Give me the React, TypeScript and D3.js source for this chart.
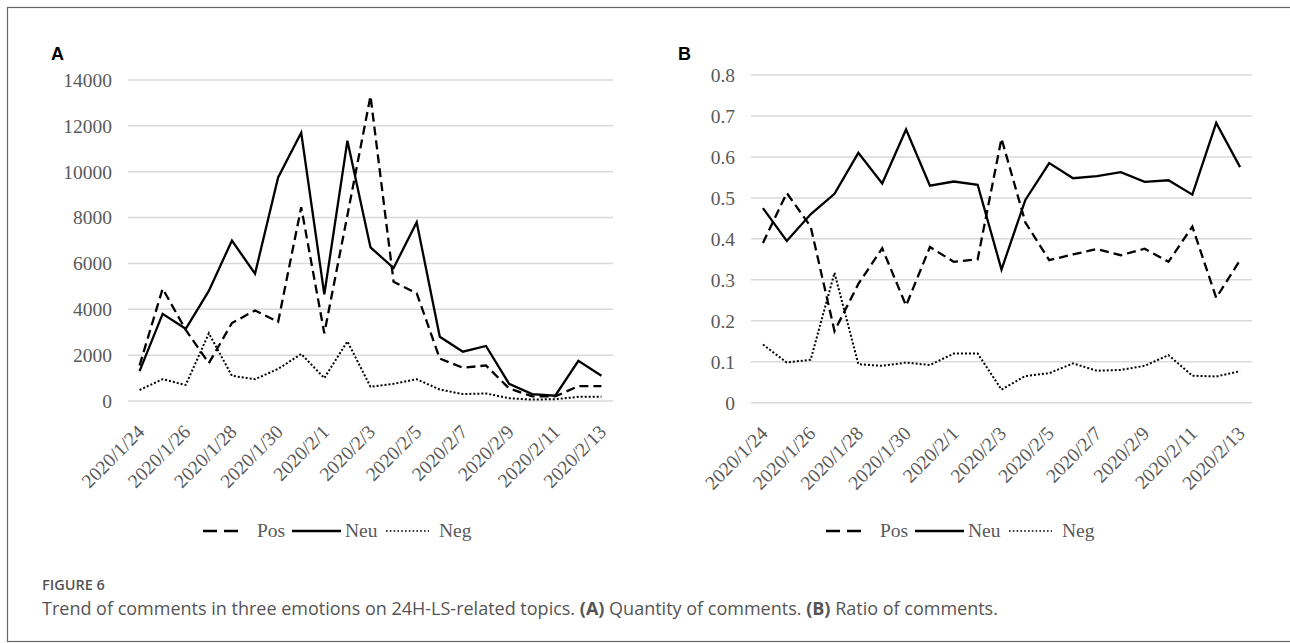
import React from 'react';
import * as d3 from 'd3';

// Trend of comments in three emotions (24H-LS topics), 2020/1/24 - 2020/2/13

const dates = [
  '2020/1/24', '2020/1/25', '2020/1/26', '2020/1/27', '2020/1/28', '2020/1/29', '2020/1/30',
  '2020/1/31', '2020/2/1', '2020/2/2', '2020/2/3', '2020/2/4', '2020/2/5', '2020/2/6',
  '2020/2/7', '2020/2/8', '2020/2/9', '2020/2/10', '2020/2/11', '2020/2/12', '2020/2/13',
];

// Panel A: quantity of comments
const posCount = [1550, 4900, 3100, 1650, 3400, 3950, 3450, 8450, 2950, 8100, 13300, 5200, 4700, 1850, 1450, 1550, 550, 200, 200, 650, 650];
const neuCount = [1300, 3800, 3150, 4800, 7000, 5550, 9750, 11700, 4650, 11350, 6700, 5800, 7800, 2800, 2150, 2400, 750, 300, 230, 1750, 1100];
const negCount = [480, 950, 700, 2950, 1100, 950, 1400, 2050, 1000, 2600, 620, 750, 950, 500, 300, 330, 120, 60, 80, 180, 180];

// Panel B: ratio of comments
const posRatio = [0.39, 0.512, 0.43, 0.175, 0.29, 0.377, 0.237, 0.38, 0.344, 0.35, 0.645, 0.44, 0.348, 0.362, 0.375, 0.36, 0.376, 0.344, 0.43, 0.256, 0.348];
const neuRatio = [0.475, 0.395, 0.46, 0.51, 0.61, 0.535, 0.667, 0.53, 0.54, 0.532, 0.325, 0.495, 0.585, 0.548, 0.553, 0.563, 0.539, 0.543, 0.508, 0.683, 0.575];
const negRatio = [0.142, 0.098, 0.105, 0.317, 0.094, 0.09, 0.098, 0.092, 0.12, 0.12, 0.032, 0.065, 0.072, 0.096, 0.078, 0.08, 0.09, 0.116, 0.066, 0.064, 0.077];

const countTicks = [0, 2000, 4000, 6000, 8000, 10000, 12000, 14000];
const ratioTicks = [0, 0.1, 0.2, 0.3, 0.4, 0.5, 0.6, 0.7, 0.8];

const seriesNames = ['Pos', 'Neu', 'Neg'];
const dashes = ['9,5', 'none', '2,2'];
const widths = [2.3, 2.3, 2];

const SERIF = '"Liberation Serif", "Times New Roman", serif';
const AXIS_GRAY = '#595959';

interface PanelProps {
  letter: string;
  series: number[][];
  ticks: number[];
  max: number;
  left: number;
  right: number;
  top: number;
  bottom: number;
  letterX: number;
  legendX: number;
  fmt: (v: number) => string;
}

function Panel({ letter, series, ticks, max, left, right, top, bottom, letterX, legendX, fmt }: PanelProps) {
  const x = d3.scalePoint<string>().domain(dates).range([left, right]).padding(0.5);
  const y = d3.scaleLinear().domain([0, max]).range([bottom, top]);
  const line = d3.line<number>()
    .x((_, i) => x(dates[i]) as number)
    .y(d => y(d));

  // legend layout offsets (sample, label) relative to legend start
  const sampleStart = [0, 89, 183];
  const sampleLen = [42, 49, 43];
  const labelStart = [54, 142, 236];
  const legendY = 537;

  return (
    <g>
      <text x={letterX} y={60} fontFamily='"Liberation Sans", Arial, sans-serif' fontWeight="bold" fontSize={18} fill="#000">
        {letter}
      </text>
      {ticks.map(t => (
        <g key={t}>
          <line x1={left} x2={right} y1={y(t)} y2={y(t)} stroke="#d9d9d9" strokeWidth={1.5} />
          <text x={left - 16} y={y(t)} dy="0.35em" textAnchor="end" fontFamily={SERIF} fontSize={19.5} fill={AXIS_GRAY}>
            {fmt(t)}
          </text>
        </g>
      ))}
      {dates.map((d, i) => i % 2 === 0 && (
        <text
          key={d}
          transform={`translate(${(x(d) as number) + 6},${bottom + 32}) rotate(-45)`}
          textAnchor="end"
          fontFamily={SERIF}
          fontSize={19.5}
          fill={AXIS_GRAY}
        >
          {d}
        </text>
      ))}
      {series.map((s, k) => (
        <path
          key={seriesNames[k]}
          d={line(s) || ''}
          fill="none"
          stroke="#000"
          strokeWidth={widths[k]}
          strokeDasharray={dashes[k]}
          strokeLinejoin="miter"
        />
      ))}
      {seriesNames.map((n, k) => (
        <g key={n}>
          <line
            x1={legendX + sampleStart[k]}
            x2={legendX + sampleStart[k] + sampleLen[k]}
            y1={legendY - 6}
            y2={legendY - 6}
            stroke="#000"
            strokeWidth={k === 2 ? 1.6 : 2.6}
            strokeDasharray={k === 0 ? '14,7' : k === 2 ? '1.6,2.2' : 'none'}
          />
          <text x={legendX + labelStart[k]} y={legendY} fontFamily={SERIF} fontSize={19.5} fill={AXIS_GRAY}>
            {n}
          </text>
        </g>
      ))}
    </g>
  );
}

export default function App() {
  return (
    <svg
      width={1290}
      height={643}
      viewBox="0 0 1290 643"
      style={{ position: 'absolute', left: 0, top: 0, background: '#fff', display: 'block' }}
    >
      <rect x={0} y={0} width={1290} height={643} fill="#fff" />
      <rect x={7.5} y={7.5} width={1300} height={634} fill="none" stroke="#666" strokeWidth={1.2} />
      <Panel
        letter="A"
        series={[posCount, neuCount, negCount]}
        ticks={countTicks}
        max={14000}
        left={128}
        right={613}
        top={80}
        bottom={401}
        letterX={51}
        legendX={203}
        fmt={v => String(v)}
      />
      <Panel
        letter="B"
        series={[posRatio, neuRatio, negRatio]}
        ticks={ratioTicks}
        max={0.8}
        left={751}
        right={1252}
        top={75}
        bottom={402.7}
        letterX={678}
        legendX={826}
        fmt={v => (v === 0 ? '0' : d3.format('.1f')(v))}
      />
      <text x={42} y={590} fontFamily='"Open Sans", sans-serif' fontWeight={600} fontSize={14.5} fill="#555">
        FIGURE 6
      </text>
      <text x={42} y={615} fontFamily='"Open Sans", sans-serif' fontSize={18} fill="#555">
        Trend of comments in three emotions on 24H-LS-related topics.{' '}
        <tspan fontWeight="bold">(A)</tspan> Quantity of comments.{' '}
        <tspan fontWeight="bold">(B)</tspan> Ratio of comments.
      </text>
    </svg>
  );
}
